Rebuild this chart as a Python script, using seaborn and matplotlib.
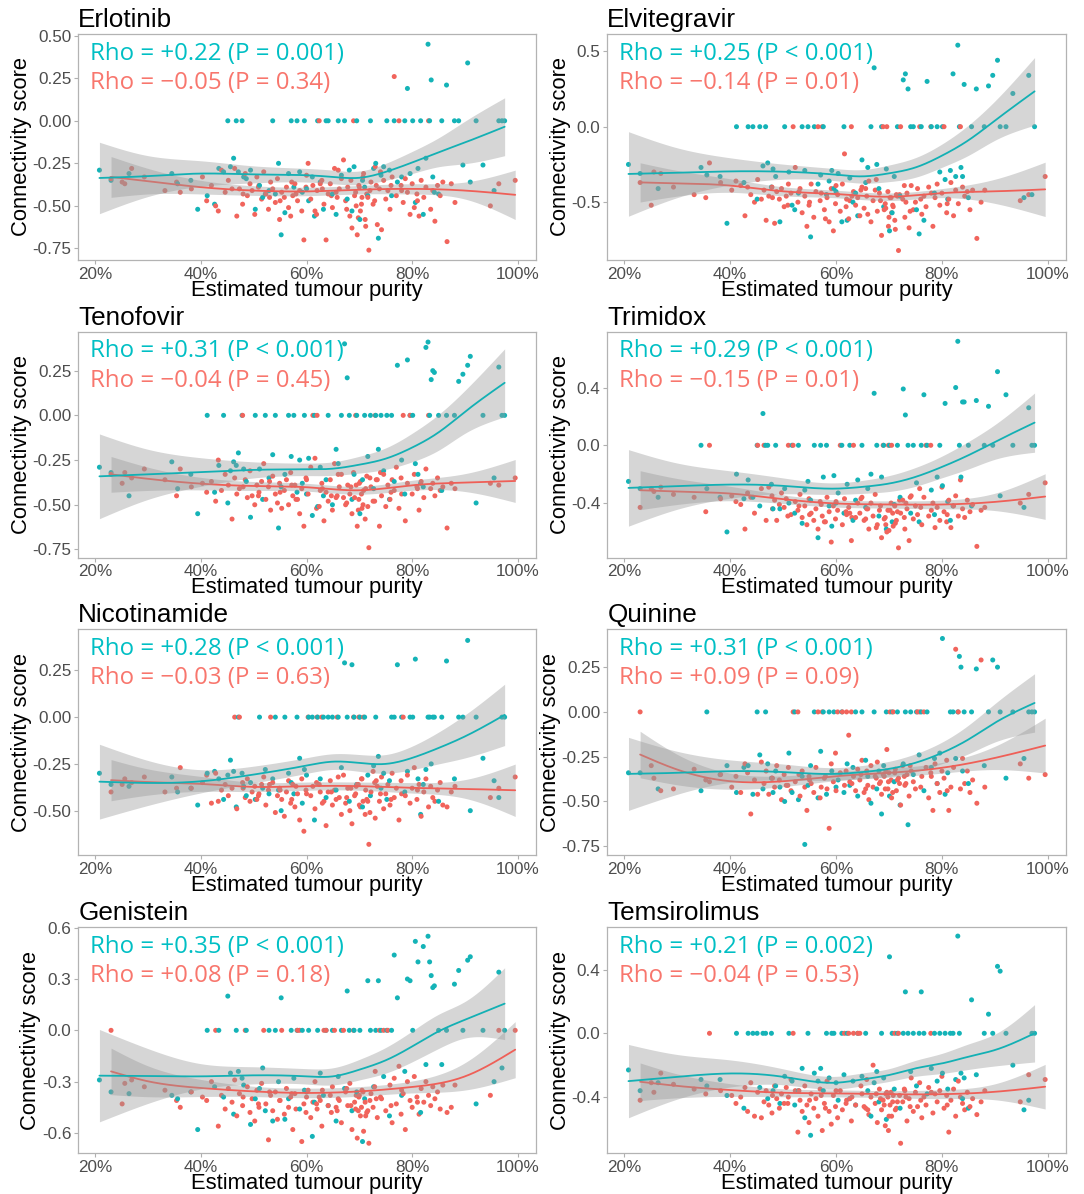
import numpy as np
import pandas as pd
import matplotlib
matplotlib.use("Agg")
import matplotlib.pyplot as plt
import seaborn as sns

# ---------------------------------------------------------------- data
# Estimated tumour purity (%) of the samples in each group (shared by all drugs)
teal_purity = [
    20.8, 23.0, 26.4, 34.5, 35.6, 38.1, 39.4, 41.2, 42.6, 43.4,
    44.3, 45.1, 45.6, 46.2, 46.7, 47.1, 47.8, 48.6, 49.4, 50.3,
    51.1, 51.7, 52.2, 52.9, 53.6, 54.1, 54.7, 55.2, 55.9, 56.6,
    57.1, 57.6, 58.2, 58.7, 59.2, 59.6, 60.4, 61.1, 61.5, 62.1,
    62.6, 63.2, 63.7, 64.1, 64.9, 65.6, 66.0, 66.6, 67.2, 67.7,
    68.1, 68.6, 69.0, 69.5, 70.1, 70.6, 71.0, 71.6, 72.1, 72.7,
    73.1, 73.6, 74.1, 74.6, 75.2, 75.7, 76.1, 76.6, 77.2, 78.0,
    78.6, 79.1, 79.6, 80.1, 80.6, 81.1, 81.6, 82.1, 82.6, 83.0,
    83.3, 83.6, 83.9, 84.2, 85.0, 85.6, 86.5, 88.0, 88.8, 89.6,
    90.5, 91.0, 92.1, 93.4, 95.5, 96.4, 97.0, 97.5, 48.1, 60.0,
]
red_purity = [
    23.0, 25.1, 25.6, 26.9, 29.3, 33.2, 35.4, 36.1, 38.2, 40.3,
    41.1, 42.0, 42.8, 43.3, 43.9, 44.6, 45.2, 45.9, 46.4, 46.8,
    47.3, 47.9, 48.4, 48.8, 49.3, 49.7, 50.2, 50.6, 51.0, 51.5,
    51.9, 52.3, 52.8, 53.2, 53.6, 54.1, 54.5, 54.9, 55.3, 55.8,
    56.2, 56.6, 57.0, 57.4, 57.8, 58.3, 58.7, 59.1, 59.5, 59.9,
    60.3, 60.8, 61.2, 61.6, 62.0, 62.4, 62.9, 63.3, 63.7, 64.1,
    64.5, 64.9, 65.3, 65.8, 66.2, 66.6, 67.0, 67.4, 67.8, 68.2,
    68.6, 68.9, 69.3, 69.6, 69.9, 70.2, 70.5, 70.8, 71.1, 71.4,
    71.8, 72.2, 72.6, 73.0, 73.4, 73.8, 74.2, 74.6, 75.0, 75.4,
    75.8, 76.2, 76.6, 77.0, 77.5, 77.9, 78.3, 78.7, 79.1, 79.6,
    80.0, 80.4, 80.9, 81.3, 81.7, 82.2, 82.6, 83.1, 83.5, 83.9,
    84.3, 84.8, 85.3, 85.8, 86.6, 87.4, 88.1, 94.8, 96.4, 99.5,
    55.0, 57.2, 58.0, 60.0, 61.9, 63.0, 64.7, 66.0, 67.6, 68.4,
    69.1, 69.8, 70.0, 70.4, 70.7, 71.2, 72.0, 72.9, 74.0, 76.0,
    48.0, 50.9, 53.0, 62.6, 65.6, 69.4, 71.6, 73.2, 78.0, 81.0,
]

# Purity positions at which the loess fits and their confidence half-widths are given
teal_knots = [20.8, 30, 40, 50, 60, 65, 70, 75, 80, 85, 90, 97.5]
red_knots = [23.0, 30, 40, 50, 60, 70, 80, 90, 99.5]

drug_names = ["Erlotinib", "Elvitegravir", "Tenofovir", "Trimidox",
              "Nicotinamide", "Quinine", "Genistein", "Temsirolimus"]
teal_rho = ["Rho = +0.22 (P = 0.001)", "Rho = +0.25 (P < 0.001)", "Rho = +0.31 (P < 0.001)",
            "Rho = +0.29 (P < 0.001)", "Rho = +0.28 (P < 0.001)", "Rho = +0.31 (P < 0.001)",
            "Rho = +0.35 (P < 0.001)", "Rho = +0.21 (P = 0.002)"]
red_rho = ["Rho = \u22120.05 (P = 0.34)", "Rho = \u22120.14 (P = 0.01)", "Rho = \u22120.04 (P = 0.45)",
           "Rho = \u22120.15 (P = 0.01)", "Rho = \u22120.03 (P = 0.63)", "Rho = +0.09 (P = 0.09)",
           "Rho = +0.08 (P = 0.18)", "Rho = \u22120.04 (P = 0.53)"]

y_ticks = [[0.5, 0.25, 0.0, -0.25, -0.5, -0.75], [0.5, 0.0, -0.5],
           [0.25, 0.0, -0.25, -0.5, -0.75], [0.4, 0.0, -0.4],
           [0.25, 0.0, -0.25, -0.5], [0.25, 0.0, -0.25, -0.5, -0.75],
           [0.6, 0.3, 0.0, -0.3, -0.6], [0.4, 0.0, -0.4]]
y_decimals = [2, 1, 2, 1, 2, 2, 1, 1]
y_limits = [(-0.818, 0.510), (-0.883, 0.614), (-0.795, 0.469), (-0.777, 0.788),
            (-0.737, 0.471), (-0.799, 0.463), (-0.717, 0.604), (-0.751, 0.667)]
x_ticks = [20, 40, 60, 80, 100]

# --- Erlotinib
erlotinib_teal = [
    -0.29, -0.35, -0.31, -0.31, -0.37, -0.35, -0.52, -0.44, -0.49, -0.28,
    -0.30, 0.00, -0.27, -0.22, 0.00, -0.30, 0.00, -0.34, -0.29, -0.52,
    -0.38, -0.45, -0.43, -0.41, 0.00, -0.43, -0.25, -0.67, -0.54, -0.31,
    0.00, -0.39, 0.00, -0.30, -0.42, 0.00, -0.47, -0.33, -0.56, 0.00,
    -0.36, -0.52, 0.00, 0.00, -0.43, -0.55, 0.00, -0.32, 0.00, -0.46,
    -0.29, -0.53, -0.27, 0.00, -0.58, -0.35, -0.39, -0.44, 0.00, -0.28,
    -0.25, -0.69, -0.32, -0.27, 0.00, -0.29, -0.44, 0.00, -0.36, -0.33,
    0.00, 0.19, -0.31, 0.00, -0.48, -0.28, 0.00, -0.55, -0.22, 0.45,
    0.00, 0.24, -0.33, -0.42, -0.43, 0.00, 0.21, 0.00, 0.00, -0.26,
    0.34, -0.36, 0.00, -0.26, -0.41, 0.00, 0.00, 0.00, -0.33, -0.40,
]
erlotinib_red = [
    -0.34, -0.36, -0.37, -0.28, -0.33, -0.41, -0.36, -0.42, -0.40, -0.33,
    -0.47, -0.38, -0.50, -0.53, -0.29, -0.42, -0.35, -0.40, -0.28, -0.56,
    -0.40, -0.49, -0.31, -0.44, -0.37, -0.41, -0.55, -0.33, -0.38, -0.46,
    -0.30, -0.43, -0.52, -0.36, -0.40, -0.48, -0.34, -0.58, -0.42, -0.45,
    -0.39, -0.51, -0.56, -0.44, -0.37, -0.47, -0.41, -0.53, -0.70, -0.39,
    -0.25, -0.46, -0.38, -0.53, -0.41, 0.00, -0.35, -0.49, -0.70, -0.43,
    -0.37, -0.51, -0.28, -0.45, -0.40, -0.34, -0.23, -0.47, -0.39, -0.56,
    -0.63, 0.00, -0.42, -0.67, -0.38, -0.53, -0.45, -0.31, -0.58, -0.43,
    -0.76, -0.36, -0.49, -0.27, -0.61, -0.40, -0.64, -0.35, -0.46, -0.41,
    -0.52, -0.33, 0.26, -0.44, 0.00, -0.38, -0.48, -0.34, -0.42, -0.55,
    -0.37, -0.51, -0.43, -0.56, -0.35, -0.45, -0.39, 0.00, -0.52, -0.41,
    -0.59, -0.38, -0.44, -0.36, -0.71, -0.37, -0.48, -0.50, -0.37, -0.35,
    -0.47, -0.36, -0.43, -0.32, -0.55, -0.40, -0.44, -0.29, -0.52, -0.35,
    -0.44, -0.57, -0.39, -0.49, -0.33, -0.62, -0.41, -0.47, -0.30, -0.38,
    -0.43, -0.39, -0.45, -0.37, -0.42, -0.50, -0.45, -0.38, -0.41, -0.47,
]
erlotinib_teal_fit = [-0.336, -0.325, -0.31, -0.315, -0.32, -0.33, -0.335, -0.30, -0.245, -0.185, -0.127, -0.035]
erlotinib_teal_ci = [0.21, 0.12, 0.075, 0.05, 0.04, 0.04, 0.04, 0.05, 0.065, 0.085, 0.125, 0.17]
erlotinib_red_fit = [-0.33, -0.355, -0.39, -0.41, -0.415, -0.405, -0.40, -0.41, -0.435]
erlotinib_red_ci = [0.12, 0.075, 0.04, 0.028, 0.025, 0.025, 0.03, 0.05, 0.145]

# --- Elvitegravir
elvitegravir_teal = [
    -0.25, -0.31, -0.41, -0.27, -0.32, -0.33, -0.64, 0.00, -0.37, 0.00,
    0.00, -0.48, 0.00, -0.26, 0.00, -0.24, -0.40, -0.33, -0.63, 0.00,
    -0.30, -0.52, -0.55, -0.44, 0.00, -0.29, 0.00, -0.73, 0.00, -0.38,
    -0.32, 0.00, -0.45, -0.36, -0.29, -0.41, -0.31, -0.63, 0.00, -0.62,
    -0.34, -0.50, -0.44, -0.59, -0.22, -0.37, -0.27, 0.00, 0.39, -0.25,
    -0.41, 0.00, -0.53, -0.28, -0.69, -0.57, -0.33, 0.00, -0.46, 0.31,
    0.35, 0.25, 0.00, 0.00, -0.55, -0.71, 0.00, -0.62, 0.30, 0.00,
    -0.44, 0.00, -0.30, 0.00, -0.35, -0.48, -0.29, 0.35, -0.33, 0.54,
    0.00, -0.27, -0.33, 0.28, -0.47, 0.00, 0.25, 0.00, 0.27, 0.34,
    0.44, 0.00, 0.00, 0.22, -0.47, 0.34, -0.45, 0.00, -0.28, -0.43,
]
elvitegravir_red = [
    -0.37, -0.52, -0.30, -0.31, -0.40, -0.45, -0.47, -0.24, -0.37, -0.42,
    -0.36, -0.39, -0.59, -0.40, -0.45, -0.50, -0.35, -0.48, -0.42, -0.62,
    -0.46, -0.40, -0.64, -0.43, -0.48, -0.41, -0.53, -0.46, -0.38, -0.44,
    0.00, -0.27, -0.50, -0.41, -0.57, -0.46, -0.66, -0.52, -0.38, -0.60,
    -0.43, 0.00, -0.49, 0.00, -0.55, -0.47, -0.63, -0.41, -0.69, -0.51,
    -0.45, -0.56, -0.38, -0.18, -0.48, -0.61, 0.00, -0.43, -0.52, -0.47,
    -0.59, -0.40, -0.54, -0.46, -0.36, -0.63, -0.49, -0.42, -0.56, -0.44,
    -0.72, 0.00, -0.51, 0.00, -0.66, -0.47, -0.57, -0.53, -0.62, -0.45,
    -0.82, 0.00, -0.48, -0.60, -0.44, -0.67, -0.39, -0.55, -0.50, -0.41,
    0.00, -0.58, -0.46, -0.53, -0.40, 0.00, -0.66, -0.47, -0.38, -0.52,
    -0.44, 0.00, -0.57, -0.48, -0.37, -0.59, -0.42, -0.51, 0.00, -0.40,
    -0.46, -0.43, -0.55, -0.42, -0.74, -0.50, -0.42, -0.49, -0.45, -0.33,
    -0.50, -0.44, -0.61, -0.39, -0.53, -0.46, -0.42, -0.58, -0.35, -0.49,
    -0.55, -0.43, -0.60, -0.47, -0.52, -0.68, -0.45, -0.39, -0.56, -0.48,
    -0.47, -0.52, -0.43, -0.49, -0.41, -0.54, -0.46, -0.50, -0.44, -0.51,
]
elvitegravir_teal_fit = [-0.313, -0.305, -0.296, -0.298, -0.318, -0.329, -0.309, -0.27, -0.192, -0.09, 0.04, 0.234]
elvitegravir_teal_ci = [0.28, 0.165, 0.09, 0.05, 0.04, 0.045, 0.055, 0.065, 0.077, 0.10, 0.13, 0.224]
elvitegravir_red_fit = [-0.369, -0.375, -0.39, -0.428, -0.446, -0.464, -0.44, -0.428, -0.415]
elvitegravir_red_ci = [0.13, 0.085, 0.045, 0.03, 0.025, 0.025, 0.03, 0.08, 0.18]

# --- Tenofovir
tenofovir_teal = [
    -0.29, -0.32, -0.45, -0.26, -0.41, -0.33, -0.55, 0.00, -0.43, -0.28,
    0.00, -0.49, -0.31, -0.26, -0.28, -0.21, 0.00, -0.37, -0.57, 0.00,
    -0.30, -0.47, 0.00, -0.35, -0.22, 0.00, -0.63, -0.40, -0.33, 0.00,
    -0.23, 0.00, -0.43, -0.25, -0.38, 0.00, -0.24, -0.56, 0.00, -0.51,
    -0.29, -0.45, -0.36, 0.00, -0.50, -0.19, -0.27, 0.00, 0.40, 0.21,
    0.00, -0.47, -0.33, 0.00, -0.55, -0.36, 0.00, -0.23, 0.00, -0.41,
    0.00, -0.19, 0.00, -0.31, 0.00, -0.47, 0.00, -0.37, 0.28, -0.25,
    -0.44, 0.31, 0.00, 0.00, -0.27, -0.33, -0.38, -0.40, 0.38, 0.41,
    0.00, 0.20, 0.25, 0.24, 0.00, -0.42, 0.00, 0.00, 0.19, 0.23,
    0.28, 0.33, -0.49, 0.00, -0.35, 0.27, 0.00, 0.00, -0.30, -0.44,
]
tenofovir_red = [
    -0.33, -0.38, -0.32, -0.35, -0.30, -0.36, -0.45, -0.30, -0.40, -0.38,
    -0.43, -0.37, -0.48, -0.25, -0.42, -0.33, -0.39, -0.58, -0.35, -0.44,
    -0.41, 0.00, -0.36, -0.46, -0.31, -0.45, -0.50, -0.39, -0.43, -0.37,
    -0.27, -0.47, -0.40, -0.53, -0.34, -0.44, -0.49, -0.38, -0.52, -0.42,
    -0.36, -0.50, -0.32, -0.45, -0.39, -0.47, -0.55, -0.41, -0.62, -0.35,
    -0.44, -0.29, 0.00, -0.24, 0.00, -0.51, -0.38, -0.59, -0.43, -0.48,
    -0.36, -0.53, -0.27, -0.45, -0.40, -0.33, -0.46, -0.50, -0.39, -0.44,
    -0.55, -0.32, 0.00, -0.62, -0.47, -0.37, -0.52, -0.42, -0.58, -0.34,
    -0.74, -0.40, -0.48, 0.00, -0.36, -0.62, -0.45, -0.33, -0.51, -0.39,
    -0.47, -0.36, -0.42, -0.29, -0.52, -0.35, 0.00, -0.59, -0.38, 0.00,
    -0.44, -0.33, -0.40, -0.53, -0.37, -0.46, -0.30, 0.00, -0.41, -0.38,
    -0.45, -0.35, -0.42, -0.40, -0.63, -0.38, -0.41, -0.38, -0.39, -0.35,
    -0.43, -0.39, -0.47, -0.36, -0.52, -0.41, -0.45, -0.33, -0.49, -0.40,
    -0.46, -0.53, -0.38, -0.44, -0.50, -0.41, -0.35, -0.48, -0.32, -0.43,
    -0.40, -0.45, -0.37, -0.42, -0.46, -0.39, -0.51, -0.36, -0.44, -0.41,
]
tenofovir_teal_fit = [-0.341, -0.33, -0.317, -0.305, -0.302, -0.298, -0.276, -0.242, -0.18, -0.095, 0.02, 0.182]
tenofovir_teal_ci = [0.237, 0.14, 0.08, 0.045, 0.035, 0.038, 0.047, 0.06, 0.08, 0.10, 0.12, 0.19]
tenofovir_red_fit = [-0.33, -0.355, -0.382, -0.395, -0.402, -0.419, -0.391, -0.376, -0.367]
tenofovir_red_ci = [0.10, 0.065, 0.035, 0.025, 0.022, 0.022, 0.028, 0.05, 0.12]

# --- Trimidox
trimidox_teal = [
    -0.25, -0.30, -0.36, 0.00, -0.30, -0.36, -0.60, -0.20, -0.37, -0.24,
    -0.36, 0.00, -0.42, 0.22, 0.00, 0.00, -0.27, 0.00, -0.44, -0.30,
    -0.40, 0.00, -0.47, 0.00, -0.54, -0.31, -0.25, -0.38, 0.00, -0.64,
    0.00, -0.22, 0.00, -0.42, -0.56, -0.21, -0.33, 0.00, -0.47, -0.27,
    0.00, -0.52, -0.38, -0.24, 0.00, -0.43, -0.30, -0.20, 0.36, 0.00,
    -0.49, -0.22, 0.00, -0.58, 0.00, -0.53, -0.41, 0.00, -0.36, 0.39,
    0.21, 0.00, -0.47, 0.00, -0.26, -0.53, 0.00, 0.35, 0.00, -0.31,
    -0.48, -0.22, 0.00, -0.28, 0.29, -0.39, -0.52, -0.42, 0.40, 0.72,
    0.00, -0.22, 0.30, 0.30, 0.00, -0.42, 0.31, 0.00, 0.27, 0.00,
    0.51, -0.35, 0.35, 0.00, -0.43, 0.26, 0.00, 0.00, -0.44, -0.40,
]
trimidox_red = [
    -0.43, -0.30, -0.32, -0.29, -0.34, -0.36, -0.46, 0.00, -0.37, -0.35,
    -0.39, -0.41, -0.58, -0.33, -0.36, -0.47, 0.00, -0.30, 0.00, -0.52,
    -0.29, -0.35, -0.38, -0.52, -0.41, -0.33, -0.43, -0.37, 0.00, -0.48,
    0.00, -0.39, -0.45, -0.34, -0.50, -0.42, -0.55, -0.37, -0.47, -0.52,
    -0.44, -0.58, -0.39, -0.49, -0.53, -0.36, -0.46, -0.67, -0.42, -0.51,
    -0.45, 0.00, -0.55, -0.37, -0.48, -0.43, -0.66, 0.00, -0.50, -0.40,
    -0.47, -0.36, -0.52, -0.44, -0.58, -0.40, -0.49, -0.34, -0.55, -0.45,
    -0.64, 0.00, -0.50, -0.60, 0.00, -0.45, 0.00, -0.56, -0.42, -0.52,
    -0.71, -0.47, -0.38, -0.58, -0.44, -0.66, -0.35, -0.51, -0.42, -0.48,
    -0.30, -0.55, -0.36, 0.00, -0.49, 0.00, -0.40, -0.57, -0.43, -0.52,
    -0.29, -0.46, -0.53, -0.38, -0.57, -0.42, -0.35, -0.49, -0.24, -0.44,
    -0.50, -0.38, -0.46, -0.41, -0.70, -0.45, -0.43, -0.40, -0.34, -0.26,
    -0.48, -0.41, -0.53, -0.39, -0.46, -0.50, -0.37, -0.44, -0.57, -0.42,
    -0.51, -0.45, -0.59, -0.40, -0.47, -0.54, -0.38, -0.50, -0.36, -0.43,
    -0.44, -0.49, -0.42, -0.47, -0.51, -0.55, -0.46, -0.40, -0.45, -0.48,
]
trimidox_teal_fit = [-0.295, -0.283, -0.272, -0.281, -0.30, -0.288, -0.265, -0.219, -0.15, -0.069, 0.023, 0.157]
trimidox_teal_ci = [0.265, 0.16, 0.095, 0.055, 0.04, 0.045, 0.055, 0.065, 0.075, 0.095, 0.12, 0.205]
trimidox_red_fit = [-0.311, -0.32, -0.334, -0.373, -0.403, -0.41, -0.41, -0.392, -0.355]
trimidox_red_ci = [0.135, 0.09, 0.05, 0.03, 0.025, 0.025, 0.03, 0.06, 0.158]

# --- Nicotinamide
nicotinamide_teal = [
    -0.30, -0.36, -0.37, -0.32, -0.40, -0.38, -0.47, -0.30, -0.29, -0.33,
    -0.44, -0.31, -0.23, -0.29, -0.48, 0.00, -0.30, -0.42, -0.35, -0.44,
    0.00, -0.38, -0.28, -0.41, -0.33, 0.00, -0.39, -0.50, 0.00, -0.30,
    -0.35, -0.41, 0.00, -0.22, -0.46, -0.28, 0.00, 0.00, -0.55, 0.00,
    -0.33, 0.00, -0.43, 0.00, 0.00, -0.39, 0.00, -0.27, 0.29, 0.00,
    -0.45, 0.28, 0.00, -0.36, 0.00, -0.48, 0.00, -0.31, -0.42, -0.26,
    0.00, -0.21, -0.38, -0.30, -0.44, -0.34, 0.00, 0.00, 0.28, 0.00,
    -0.40, -0.29, 0.00, 0.00, 0.31, -0.33, -0.52, -0.36, -0.28, 0.00,
    0.00, -0.25, 0.00, 0.00, -0.45, 0.00, 0.30, -0.33, 0.00, 0.00,
    0.41, -0.50, 0.00, -0.22, -0.34, -0.43, 0.00, 0.00, -0.37, -0.31,
]
nicotinamide_red = [
    -0.40, -0.36, -0.33, -0.35, -0.32, -0.40, -0.38, -0.27, -0.38, -0.35,
    -0.31, -0.46, -0.30, -0.45, -0.39, -0.36, -0.42, -0.38, 0.00, -0.49,
    0.00, -0.35, -0.43, -0.33, -0.45, -0.40, -0.37, -0.44, -0.41, -0.36,
    -0.32, -0.47, -0.39, 0.00, -0.35, -0.51, -0.42, -0.38, -0.44, -0.53,
    -0.40, -0.34, -0.46, -0.36, -0.48, -0.41, -0.55, -0.33, -0.61, -0.39,
    0.00, -0.42, -0.37, -0.49, 0.00, -0.36, 0.00, -0.45, -0.58, -0.40,
    -0.34, -0.47, -0.39, 0.00, -0.43, -0.52, -0.31, -0.46, -0.38, -0.50,
    -0.57, 0.00, -0.41, -0.36, 0.00, -0.48, -0.33, 0.00, -0.52, -0.44,
    -0.68, -0.40, -0.29, -0.54, -0.37, -0.45, -0.32, -0.49, -0.41, -0.36,
    -0.47, -0.30, -0.43, -0.38, -0.55, -0.34, 0.00, -0.42, -0.31, -0.46,
    -0.38, -0.27, -0.44, -0.36, -0.53, -0.40, -0.33, -0.48, -0.37, -0.43,
    -0.45, -0.39, -0.35, -0.47, -0.48, -0.40, -0.37, -0.43, -0.38, -0.32,
    -0.39, -0.44, -0.37, -0.41, -0.35, -0.46, -0.40, -0.32, -0.43, -0.38,
    -0.42, -0.36, -0.47, -0.33, -0.45, -0.39, -0.51, -0.35, -0.41, -0.44,
    -0.38, -0.42, -0.36, -0.40, -0.44, -0.37, -0.45, -0.34, -0.41, -0.39,
]
nicotinamide_teal_fit = [-0.345, -0.352, -0.343, -0.307, -0.259, -0.238, -0.245, -0.25, -0.218, -0.165, -0.103, 0.012]
nicotinamide_teal_ci = [0.20, 0.12, 0.062, 0.045, 0.042, 0.042, 0.045, 0.05, 0.063, 0.085, 0.115, 0.164]
nicotinamide_red_fit = [-0.337, -0.347, -0.357, -0.373, -0.369, -0.369, -0.378, -0.384, -0.391]
nicotinamide_red_ci = [0.11, 0.07, 0.04, 0.025, 0.022, 0.022, 0.028, 0.05, 0.14]

# --- Quinine
quinine_teal = [
    -0.34, -0.34, -0.43, -0.44, 0.00, -0.35, -0.30, -0.45, -0.31, -0.30,
    -0.46, 0.00, -0.24, -0.43, 0.00, -0.29, -0.37, -0.33, -0.42, -0.50,
    -0.23, -0.45, 0.00, -0.49, -0.36, -0.74, -0.41, -0.30, 0.00, -0.48,
    -0.22, 0.00, -0.46, 0.00, -0.33, 0.00, -0.38, 0.00, -0.45, -0.29,
    -0.41, -0.31, 0.00, -0.47, 0.00, -0.27, -0.36, -0.51, 0.00, -0.43,
    -0.33, -0.57, -0.30, 0.00, -0.47, 0.00, -0.39, 0.00, -0.52, -0.29,
    0.00, -0.63, 0.00, -0.35, 0.00, -0.24, 0.00, -0.44, 0.00, -0.31,
    -0.26, -0.40, -0.23, 0.41, -0.46, -0.34, 0.00, 0.00, -0.26, 0.00,
    0.31, 0.25, -0.33, 0.00, -0.40, 0.00, 0.24, -0.30, 0.00, 0.29,
    0.25, 0.00, -0.37, 0.00, -0.26, 0.00, 0.00, 0.00, -0.45, -0.42,
]
quinine_red = [
    0.00, -0.30, -0.37, -0.44, -0.43, -0.32, -0.38, -0.39, -0.35, -0.42,
    -0.36, -0.45, -0.29, -0.34, -0.57, -0.38, -0.46, -0.28, -0.40, -0.33,
    -0.46, -0.37, -0.42, -0.30, -0.38, -0.49, -0.35, -0.41, -0.31, -0.44,
    0.00, -0.39, 0.00, -0.47, -0.33, -0.42, -0.55, -0.36, -0.40, -0.45,
    -0.31, 0.00, -0.48, 0.00, -0.37, -0.43, -0.65, -0.29, -0.39, -0.23,
    0.00, -0.34, 0.00, -0.41, 0.00, -0.13, 0.00, -0.36, -0.44, -0.32,
    -0.38, -0.27, -0.45, -0.33, -0.49, -0.30, -0.42, -0.36, -0.28, -0.40,
    -0.46, -0.35, -0.43, -0.21, -0.39, 0.00, -0.48, 0.00, -0.34, -0.44,
    -0.37, -0.52, -0.30, -0.41, -0.35, -0.47, -0.33, -0.39, -0.43, 0.00,
    0.00, -0.36, 0.00, -0.31, -0.48, -0.34, -0.55, -0.29, -0.40, -0.45,
    -0.33, -0.37, -0.27, -0.55, -0.42, -0.31, 0.35, 0.00, -0.43, -0.26,
    -0.40, -0.33, -0.45, -0.38, -0.51, 0.29, -0.42, -0.29, -0.37, -0.35,
    -0.38, -0.42, -0.36, -0.44, -0.33, -0.40, -0.35, -0.41, -0.37, -0.39,
    -0.36, -0.43, -0.34, -0.38, -0.45, -0.32, -0.40, -0.36, -0.30, -0.42,
    -0.37, -0.41, -0.35, -0.39, -0.43, -0.33, -0.38, -0.40, -0.36, -0.44,
]
quinine_teal_fit = [-0.346, -0.34, -0.331, -0.336, -0.346, -0.336, -0.318, -0.284, -0.229, -0.154, -0.061, 0.05]
quinine_teal_ci = [0.204, 0.12, 0.063, 0.045, 0.035, 0.037, 0.042, 0.05, 0.06, 0.08, 0.107, 0.163]
quinine_red_fit = [-0.238, -0.322, -0.387, -0.387, -0.359, -0.34, -0.312, -0.257, -0.188]
quinine_red_ci = [0.13, 0.085, 0.045, 0.03, 0.025, 0.025, 0.03, 0.065, 0.153]

# --- Genistein
genistein_teal = [
    -0.29, -0.36, -0.37, -0.38, -0.40, -0.36, -0.58, 0.00, -0.33, 0.00,
    -0.39, 0.20, -0.25, -0.49, 0.00, -0.24, -0.28, 0.00, -0.55, -0.40,
    -0.34, -0.22, -0.47, 0.00, -0.53, 0.00, -0.30, 0.19, -0.52, -0.40,
    0.00, -0.28, 0.00, -0.46, 0.00, -0.35, 0.00, -0.62, -0.42, 0.00,
    -0.25, -0.38, 0.00, -0.44, 0.00, -0.53, -0.27, 0.00, -0.34, 0.23,
    0.00, -0.47, 0.00, -0.36, 0.00, -0.65, -0.40, 0.29, 0.00, -0.33,
    0.00, 0.29, 0.00, -0.27, 0.00, -0.50, 0.00, 0.44, 0.19, -0.38,
    -0.24, 0.30, 0.29, 0.00, 0.52, 0.40, -0.48, 0.49, -0.20, 0.55,
    0.40, 0.32, 0.25, 0.26, 0.00, -0.20, 0.00, 0.27, 0.35, 0.00,
    0.41, 0.43, -0.43, 0.00, -0.30, 0.34, -0.22, 0.00, -0.32, -0.36,
]
genistein_red = [
    0.00, -0.43, -0.31, -0.29, -0.33, -0.35, -0.41, -0.45, -0.36, -0.39,
    -0.41, -0.30, 0.00, -0.56, -0.38, -0.46, -0.34, -0.42, -0.29, -0.50,
    -0.37, -0.44, 0.00, -0.33, -0.48, -0.40, -0.53, -0.35, -0.45, -0.31,
    0.00, -0.43, -0.64, -0.38, -0.47, -0.36, -0.52, -0.41, 0.00, -0.49,
    -0.34, -0.45, -0.39, -0.58, -0.37, 0.00, 0.00, -0.65, -0.43, -0.48,
    -0.35, -0.51, -0.42, -0.30, -0.46, -0.39, -0.56, 0.00, 0.00, -0.44,
    -0.38, -0.33, 0.00, -0.47, -0.41, -0.54, 0.00, -0.36, -0.44, -0.31,
    -0.58, 0.00, -0.46, -0.63, -0.39, -0.50, -0.35, -0.59, -0.42, -0.48,
    -0.66, -0.37, -0.45, -0.24, -0.51, 0.00, -0.40, 0.00, -0.47, 0.00,
    -0.32, -0.54, -0.28, -0.43, -0.21, -0.49, -0.37, -0.58, -0.30, -0.41,
    -0.45, -0.27, -0.39, -0.49, -0.34, -0.42, -0.30, -0.38, -0.44, -0.33,
    -0.40, -0.36, -0.46, -0.32, -0.48, -0.45, -0.32, -0.38, 0.00, 0.00,
    -0.41, -0.37, -0.46, -0.39, -0.43, -0.35, -0.48, -0.40, -0.34, -0.44,
    -0.42, -0.47, -0.38, -0.45, -0.36, -0.50, -0.41, -0.33, -0.39, -0.44,
    -0.39, -0.43, -0.36, -0.41, -0.45, -0.38, -0.47, -0.40, -0.35, -0.42,
]
genistein_teal_fit = [-0.265, -0.267, -0.269, -0.263, -0.269, -0.269, -0.23, -0.175, -0.094, -0.006, 0.062, 0.156]
genistein_teal_ci = [0.27, 0.16, 0.074, 0.05, 0.045, 0.05, 0.06, 0.075, 0.09, 0.10, 0.107, 0.21]
genistein_red_fit = [-0.24, -0.298, -0.337, -0.357, -0.366, -0.357, -0.331, -0.269, -0.113]
genistein_red_ci = [0.136, 0.09, 0.05, 0.03, 0.028, 0.028, 0.035, 0.08, 0.164]

# --- Temsirolimus
temsirolimus_teal = [
    -0.23, -0.36, -0.31, -0.29, -0.33, -0.29, -0.39, 0.00, -0.47, 0.00,
    0.00, 0.00, -0.34, 0.00, 0.00, -0.41, 0.00, -0.33, -0.44, -0.27,
    0.00, -0.30, -0.45, -0.36, -0.22, -0.53, 0.00, -0.64, -0.25, -0.30,
    -0.22, -0.36, 0.00, -0.28, 0.00, 0.00, -0.42, 0.00, -0.26, 0.00,
    -0.41, -0.30, -0.45, 0.00, -0.27, 0.00, -0.36, -0.52, -0.31, -0.24,
    -0.43, 0.00, -0.28, -0.54, 0.48, 0.00, -0.35, 0.00, -0.47, 0.00,
    0.26, 0.00, -0.24, 0.00, -0.33, 0.00, 0.26, 0.00, -0.38, -0.22,
    0.00, -0.30, 0.00, -0.25, 0.00, -0.35, 0.00, 0.00, -0.29, 0.61,
    0.00, -0.25, -0.41, -0.28, -0.47, 0.21, -0.26, 0.00, 0.12, 0.00,
    0.42, 0.39, 0.00, -0.20, -0.48, -0.42, 0.00, 0.00, -0.36, -0.31,
]
temsirolimus_red = [
    -0.42, -0.31, -0.37, -0.25, -0.32, -0.35, -0.38, 0.00, -0.36, -0.39,
    -0.44, -0.40, -0.34, -0.49, -0.31, -0.52, -0.37, -0.53, -0.43, -0.36,
    -0.45, -0.50, -0.33, -0.41, -0.47, -0.38, -0.44, -0.34, -0.40, -0.29,
    0.00, -0.36, -0.62, -0.42, -0.49, -0.33, -0.45, -0.56, -0.38, -0.47,
    -0.41, -0.52, -0.35, -0.61, -0.44, -0.30, -0.49, -0.57, -0.39, -0.46,
    -0.53, -0.36, -0.48, 0.00, -0.42, 0.00, -0.55, 0.00, -0.45, 0.00,
    0.00, -0.38, -0.46, -0.29, -0.51, -0.40, -0.20, -0.44, -0.56, -0.35,
    -0.48, -0.42, -0.58, -0.37, -0.61, -0.45, -0.52, -0.39, 0.00, -0.47,
    0.00, -0.69, -0.43, -0.36, -0.55, -0.41, -0.28, -0.49, -0.37, -0.46,
    -0.31, -0.53, -0.40, -0.45, -0.34, 0.00, -0.50, -0.38, -0.43, -0.36,
    -0.27, -0.47, -0.39, -0.62, -0.42, -0.35, -0.52, -0.30, -0.40, -0.44,
    -0.48, -0.37, -0.46, -0.41, -0.51, -0.43, -0.36, -0.43, -0.26, -0.29,
    -0.42, -0.39, -0.47, -0.36, -0.44, -0.40, -0.33, -0.48, -0.38, -0.41,
    -0.45, -0.40, -0.52, -0.37, -0.43, -0.48, -0.39, -0.35, -0.46, -0.42,
    -0.39, -0.44, -0.36, -0.41, -0.47, -0.38, -0.43, -0.40, -0.37, -0.45,
]
temsirolimus_teal_fit = [-0.30, -0.273, -0.252, -0.273, -0.31, -0.289, -0.262, -0.22, -0.189, -0.147, -0.105, 0.0]
temsirolimus_teal_ci = [0.23, 0.14, 0.085, 0.05, 0.04, 0.04, 0.04, 0.05, 0.063, 0.08, 0.10, 0.18]
temsirolimus_red_fit = [-0.304, -0.33, -0.356, -0.373, -0.377, -0.382, -0.382, -0.367, -0.335]
temsirolimus_red_ci = [0.118, 0.075, 0.04, 0.025, 0.022, 0.022, 0.028, 0.05, 0.14]

teal_scores = [erlotinib_teal, elvitegravir_teal, tenofovir_teal, trimidox_teal,
               nicotinamide_teal, quinine_teal, genistein_teal, temsirolimus_teal]
red_scores = [erlotinib_red, elvitegravir_red, tenofovir_red, trimidox_red,
              nicotinamide_red, quinine_red, genistein_red, temsirolimus_red]
teal_fits = [erlotinib_teal_fit, elvitegravir_teal_fit, tenofovir_teal_fit, trimidox_teal_fit,
             nicotinamide_teal_fit, quinine_teal_fit, genistein_teal_fit, temsirolimus_teal_fit]
teal_cis = [erlotinib_teal_ci, elvitegravir_teal_ci, tenofovir_teal_ci, trimidox_teal_ci,
            nicotinamide_teal_ci, quinine_teal_ci, genistein_teal_ci, temsirolimus_teal_ci]
red_fits = [erlotinib_red_fit, elvitegravir_red_fit, tenofovir_red_fit, trimidox_red_fit,
            nicotinamide_red_fit, quinine_red_fit, genistein_red_fit, temsirolimus_red_fit]
red_cis = [erlotinib_red_ci, elvitegravir_red_ci, tenofovir_red_ci, trimidox_red_ci,
           nicotinamide_red_ci, quinine_red_ci, genistein_red_ci, temsirolimus_red_ci]

# ---------------------------------------------------------------- style
TEAL, RED = "#00BFC4", "#F8766D"
TEAL_PT, RED_PT = "#14B3B7", "#F1645C"
TEAL_LN, RED_LN = "#13B0B4", "#EF5F57"
BAND = "#999999"

sns.set_style("white")
plt.rcParams["font.family"] = ["Liberation Sans", "DejaVu Sans"]
ANNOT_FONT = ["Open Sans", "DejaVu Sans"]


def natural_spline(xk, yk, xs):
    """Natural cubic spline through the knots (xk, yk), evaluated at xs."""
    xk = np.asarray(xk, float)
    yk = np.asarray(yk, float)
    n = len(xk)
    h = np.diff(xk)
    A = np.zeros((n, n))
    b = np.zeros(n)
    A[0, 0] = A[-1, -1] = 1.0
    for i in range(1, n - 1):
        A[i, i - 1] = h[i - 1]
        A[i, i] = 2 * (h[i - 1] + h[i])
        A[i, i + 1] = h[i]
        b[i] = 6 * ((yk[i + 1] - yk[i]) / h[i] - (yk[i] - yk[i - 1]) / h[i - 1])
    M = np.linalg.solve(A, b)
    idx = np.clip(np.searchsorted(xk, xs) - 1, 0, n - 2)
    x0, x1 = xk[idx], xk[idx + 1]
    hh = x1 - x0
    t0, t1 = x1 - xs, xs - x0
    return ((M[idx] * t0 ** 3 + M[idx + 1] * t1 ** 3) / (6 * hh)
            + (yk[idx] / hh - M[idx] * hh / 6) * t0
            + (yk[idx + 1] / hh - M[idx + 1] * hh / 6) * t1)


def draw_smooth(ax, knots, fit, ci, line_color, z):
    xs = np.linspace(knots[0], knots[-1], 300)
    ys = natural_spline(knots, fit, xs)
    hw = natural_spline(knots, ci, xs)
    ax.fill_between(xs, ys - hw, ys + hw, color=BAND, alpha=0.4, linewidth=0, zorder=z)
    sns.lineplot(x=xs, y=ys, color=line_color, linewidth=1.3, ax=ax, zorder=z + 0.5)


# ---------------------------------------------------------------- figure
W, H = 1084, 1194
fig = plt.figure(figsize=(W / 100, H / 100), dpi=100)
col_left = [78.3, 607.3]
col_width = [457.5, 458.5]
row_top = [34.0, 331.5, 629.0, 927.0]
panel_h = 226.0

for k, name in enumerate(drug_names):
    r, c = divmod(k, 2)
    ax = fig.add_axes([col_left[c] / W, 1 - (row_top[r] + panel_h) / H,
                       col_width[c] / W, panel_h / H])

    df = pd.DataFrame({
        "purity": teal_purity + red_purity,
        "score": teal_scores[k] + red_scores[k],
        "group": ["teal"] * len(teal_purity) + ["red"] * len(red_purity),
    }).sort_values("purity", kind="stable")
    sns.scatterplot(data=df, x="purity", y="score", hue="group",
                    palette={"teal": TEAL_PT, "red": RED_PT}, s=13, linewidth=0,
                    legend=False, ax=ax, zorder=1)

    draw_smooth(ax, red_knots, red_fits[k], red_cis[k], RED_LN, 2)
    draw_smooth(ax, teal_knots, teal_fits[k], teal_cis[k], TEAL_LN, 4)

    ax.set_xlim(16.8, 103.4)
    ax.set_ylim(*y_limits[k])
    ax.set_xticks(x_ticks)
    ax.set_xticklabels([f"{v}%" for v in x_ticks])
    ax.set_yticks(y_ticks[k])
    ax.set_yticklabels([f"{v:.{y_decimals[k]}f}" for v in y_ticks[k]])
    ax.tick_params(axis="both", which="major", length=3, width=0.8, color="#B0B0B0",
                   labelsize=12.3, labelcolor="#4D4D4D", pad=2.0,
                   bottom=True, left=True)
    for sp in ax.spines.values():
        sp.set_color("#B3B3B3")
        sp.set_linewidth(0.9)

    ax.set_xlabel("Estimated tumour purity", fontsize=15.8, color="black", labelpad=-1.5)
    ax.set_ylabel("Connectivity score", fontsize=15.8, color="black", labelpad=0.3)
    ax.set_title(name, loc="left", fontsize=18.8, color="black", pad=5)

    ax.annotate(teal_rho[k], xy=(0, 1), xycoords="axes fraction",
                xytext=(8.4, -18.7), textcoords="offset points",
                ha="left", va="baseline", color=TEAL, fontsize=17.3, family=ANNOT_FONT)
    ax.annotate(red_rho[k], xy=(0, 1), xycoords="axes fraction",
                xytext=(8.4, -39.8), textcoords="offset points",
                ha="left", va="baseline", color=RED, fontsize=17.3, family=ANNOT_FONT)

fig.savefig("out.png", dpi=100)
